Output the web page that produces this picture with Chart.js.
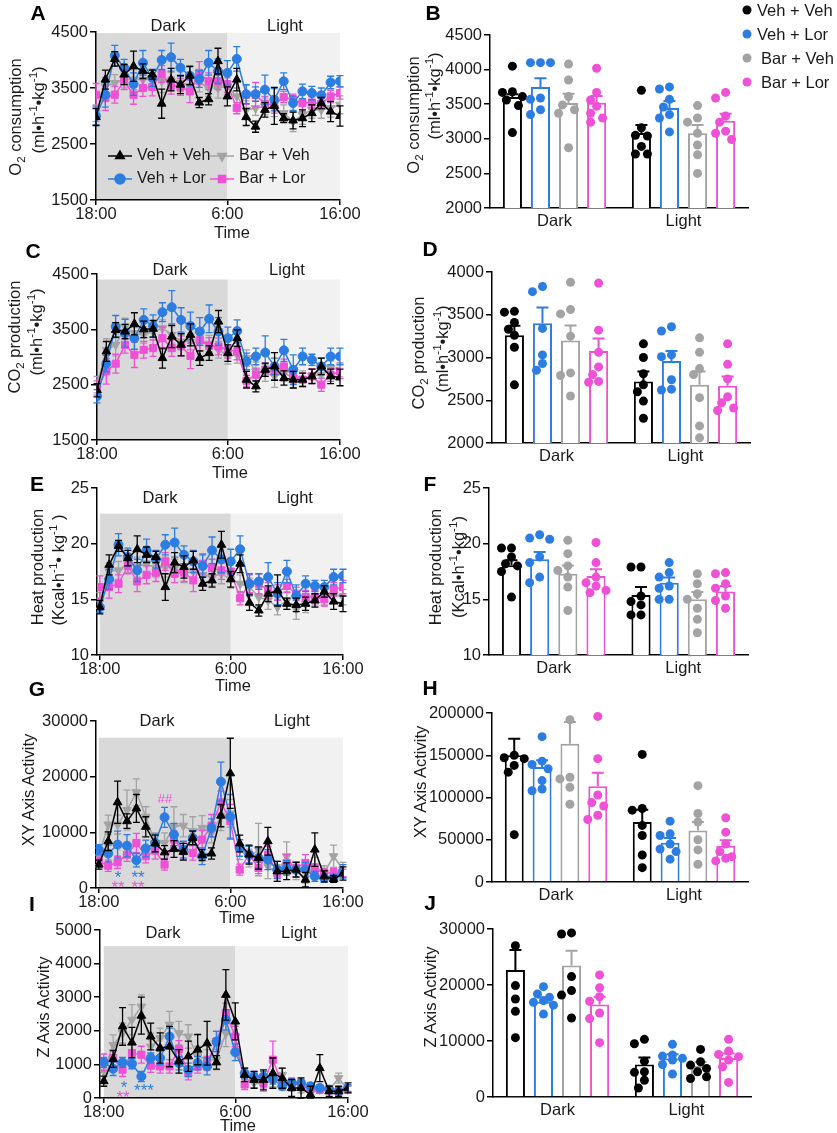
<!DOCTYPE html>
<html>
<head>
<meta charset="utf-8">
<script src="https://cdn.jsdelivr.net/npm/chart.js@4"></script>
<style>
body { margin: 0; background: #fff; width: 837px; height: 1133px; position: relative; overflow: hidden;
  font-family: "Liberation Sans", Arial, sans-serif; color: #1a1a1a; }
canvas { position: absolute; }
.t { position: absolute; white-space: nowrap; line-height: 1; transform: translate(-50%, -50%); font-size: 16.5px; z-index: 5; }
.yt { position: absolute; white-space: nowrap; line-height: 1; transform: translate(-50%, -50%) rotate(-90deg); font-size: 16.5px; z-index: 5; }
.lab { font-weight: bold; font-size: 21px; color: #000; }
.lg { position: absolute; white-space: nowrap; line-height: 1; transform: translateY(-50%); font-size: 16.5px; z-index: 5; }
.dot { position: absolute; width: 9px; height: 9px; border-radius: 50%; transform: translate(-50%, -50%); z-index: 5; }
sub, sup { font-size: 70%; line-height: 0; }
</style>
</head>
<body>

<!-- panel letters -->
<div class="t lab" style="left:38px;top:12px">A</div>
<div class="t lab" style="left:433px;top:12px">B</div>
<div class="t lab" style="left:33px;top:250px">C</div>
<div class="t lab" style="left:430px;top:248px">D</div>
<div class="t lab" style="left:37px;top:483px">E</div>
<div class="t lab" style="left:430px;top:483px">F</div>
<div class="t lab" style="left:37px;top:688px">G</div>
<div class="t lab" style="left:430px;top:687px">H</div>
<div class="t lab" style="left:32px;top:903px">I</div>
<div class="t lab" style="left:430px;top:902px">J</div>

<!-- y titles -->
<div class="yt" style="left:15px;top:117px">O<sub>2</sub> consumption</div>
<div class="yt" style="left:38px;top:110px">(ml•h<sup>-1</sup>•kg<sup>-1</sup>)</div>
<div class="yt" style="left:413px;top:115px">O<sub>2</sub> consumption</div>
<div class="yt" style="left:434px;top:96px">(ml•h<sup>-1</sup>•kg<sup>-1</sup>)</div>
<div class="yt" style="left:14px;top:337px">CO<sub>2</sub> production</div>
<div class="yt" style="left:36px;top:332px">(ml•h<sup>-1</sup>•kg<sup>-1</sup>)</div>
<div class="yt" style="left:418px;top:353px">CO<sub>2</sub> production</div>
<div class="yt" style="left:442px;top:349px">(ml•h<sup>-1</sup>•kg<sup>-1</sup>)</div>
<div class="yt" style="left:37px;top:567px">Heat production</div>
<div class="yt" style="left:58px;top:570px">(Kcal•h<sup>-1</sup>• kg<sup>-1</sup> )</div>
<div class="yt" style="left:435px;top:567px">Heat production</div>
<div class="yt" style="left:458px;top:567px">(Kcal•h<sup>-1</sup>•kg<sup>-1</sup>)</div>
<div class="yt" style="left:28px;top:790px">XY Axis Activity</div>
<div class="yt" style="left:420px;top:782px">XY Axis Activity</div>
<div class="yt" style="left:43px;top:1007px">Z Axis Activity</div>
<div class="yt" style="left:430px;top:997px">Z Axis Activity</div>

<!-- phase labels -->
<div class="t" style="left:168px;top:25px">Dark</div>
<div class="t" style="left:285px;top:25px">Light</div>
<div class="t" style="left:170px;top:269px">Dark</div>
<div class="t" style="left:287px;top:269px">Light</div>
<div class="t" style="left:160px;top:497px">Dark</div>
<div class="t" style="left:295px;top:497px">Light</div>
<div class="t" style="left:157px;top:720px">Dark</div>
<div class="t" style="left:292px;top:720px">Light</div>
<div class="t" style="left:163px;top:932px">Dark</div>
<div class="t" style="left:299px;top:932px">Light</div>

<!-- x titles -->
<div class="t" style="left:232px;top:232px">Time</div>
<div class="t" style="left:230px;top:472px">Time</div>
<div class="t" style="left:233px;top:685px">Time</div>
<div class="t" style="left:237px;top:917px">Time</div>
<div class="t" style="left:238px;top:1125px">Time</div>

<!-- significance marks -->
<div class="t" style="left:165px;top:798px;color:#ee50d6;font-size:13px">##</div>
<div class="t" style="left:118px;top:877px;color:#2c7de2;font-size:17px">*</div>
<div class="t" style="left:138px;top:877px;color:#2c7de2;font-size:17px">**</div>
<div class="t" style="left:118px;top:887px;color:#ee50d6;font-size:17px">**</div>
<div class="t" style="left:138px;top:887px;color:#ee50d6;font-size:17px">**</div>
<div class="t" style="left:124px;top:1087px;color:#2c7de2;font-size:17px">*</div>
<div class="t" style="left:144px;top:1090px;color:#2c7de2;font-size:17px">***</div>
<div class="t" style="left:123px;top:1097px;color:#ee50d6;font-size:17px">**</div>

<!-- legend B -->
<div class="dot" style="left:747px;top:10px;background:#000"></div>
<div class="lg" style="left:757px;top:10px">Veh + Veh</div>
<div class="dot" style="left:747px;top:34px;background:#2c7de2"></div>
<div class="lg" style="left:757px;top:34px">Veh + Lor</div>
<div class="dot" style="left:747px;top:58px;background:#a3a3a3"></div>
<div class="lg" style="left:761px;top:58px">Bar + Veh</div>
<div class="dot" style="left:747px;top:82px;background:#ee50d6"></div>
<div class="lg" style="left:761px;top:82px">Bar + Lor</div>

<script>
// ---- groups ----
var groupNames = ['Veh + Veh', 'Veh + Lor', 'Bar + Veh', 'Bar + Lor'];
var groupColors = ['#000000', '#2c7de2', '#a3a3a3', '#ee50d6'];
var groupStyles = ['triangle', 'circle', 'triangle', 'rect'];
var groupRot = [0, 0, 180, 0];
var drawOrder = [0, 1, 3, 2];

// ---- time axis ----
var timeTicks = [0, 14, 26];
var timeLabels = ['18:00', '6:00', '16:00'];
var phaseBounds = [0, 14, 26];
var phaseLabels = ['Dark', 'Light'];

// ---- A: O2 consumption, time course (Veh+Veh, Veh+Lor, Bar+Veh, Bar+Lor) ----
var o2VehVeh = [2980,3650,4020,3740,3890,3800,3740,3220,3650,3560,3720,3240,3300,3980,3350,3650,2980,2810,3110,3180,2960,2920,2960,3050,3230,3080,3000];
var o2VehLor = [3000,3380,4080,3860,3570,3950,3680,4000,4050,3860,3720,3660,3950,3800,3770,4020,3390,3390,3470,3290,3620,3230,3440,3410,3370,3600,3620];
var o2BarVeh = [3050,3530,3590,3650,3650,3650,3680,3620,3620,3590,3540,3600,3500,3500,3530,3350,3110,3140,3170,3140,3050,2900,3020,3110,3110,3140,3200];
var o2BarLor = [3380,3320,3380,3620,3380,3500,3520,3750,3540,3520,3440,3770,3620,3620,3570,3140,3380,3380,3220,3200,3340,3290,3230,3240,3220,3350,3410];
var o2VehVehErr = [150,170,130,180,270,130,80,260,200,160,160,90,100,230,170,200,150,100,130,330,80,150,150,150,100,180,180];
var o2VehLorErr = [160,220,180,150,200,220,150,170,250,150,180,150,220,220,220,220,170,130,260,200,150,130,130,120,130,110,100];
var o2BarVehErr = [150,160,150,150,180,150,150,200,160,150,150,170,150,180,150,150,160,130,150,150,150,180,170,150,150,160,160];
var o2BarLorErr = [200,220,150,150,170,150,160,150,150,150,200,200,150,150,150,100,170,220,130,150,100,100,150,100,100,110,110];

// ---- C: CO2 production ----
var co2VehVeh = [2400,3100,3490,3460,3600,3500,3510,2980,3370,3220,3400,2980,3070,3640,3070,3340,2590,2470,2770,2830,2620,2590,2590,2650,2830,2650,2630];
var co2VehLor = [2290,2880,3550,3430,3340,3670,3560,3810,3900,3670,3560,3460,3690,3460,3340,3470,2920,3010,3080,2830,3120,2770,3010,2950,2830,3010,3010];
var co2BarVeh = [2500,3130,3220,3550,3430,3400,3460,3520,3400,3280,3280,3250,3240,3130,3020,3040,2980,2740,2710,2650,2710,2620,2600,2660,2680,2800,2770];
var co2BarLor = [2440,2740,2880,3220,3040,3130,3160,3340,3160,3200,3020,3310,3200,3190,3130,3100,2570,2680,2770,2740,2830,2650,2590,2650,2500,2680,2740];
var co2VehVehErr = [120,180,130,130,200,150,150,180,200,200,200,130,130,200,150,150,150,100,120,250,130,150,120,130,150,130,150];
var co2VehLorErr = [120,150,200,250,200,200,200,170,300,220,250,250,250,250,200,200,150,150,300,150,200,270,150,100,150,150,150];
var co2BarVehErr = [150,200,200,150,150,150,150,150,150,150,150,150,150,150,150,150,150,170,150,200,150,180,150,130,150,130,130];
var co2BarLorErr = [130,230,170,150,230,150,150,200,150,180,230,200,150,150,150,150,100,120,120,150,130,120,120,130,120,120,130];

// ---- E: heat production ----
var heatVehVeh = [14.3,18.1,19.8,18.7,19.5,19.0,18.8,16.1,18.3,17.9,18.5,16.4,16.7,19.9,16.8,18.2,14.7,14.0,15.5,15.8,14.6,14.5,14.6,14.9,15.7,14.8,14.6];
var heatVehLor = [14.3,16.8,19.9,18.8,17.6,19.4,18.6,19.9,20.1,19.0,18.4,18.0,19.4,18.6,18.4,19.5,16.4,16.6,17.0,15.5,17.5,15.3,16.4,16.2,16.1,17.0,17.1];
var heatBarVeh = [14.9,17.5,17.6,18.2,17.9,18.2,17.8,17.9,17.8,17.3,17.5,17.2,17.0,17.3,16.8,16.4,16.1,15.2,14.9,14.3,14.9,14.1,14.6,15.1,15.2,15.4,15.2];
var heatBarLor = [16.1,16.1,16.4,18.0,16.6,17.2,17.4,18.4,17.3,17.4,16.7,18.2,17.8,17.6,17.5,15.1,16.4,16.4,15.8,15.6,16.2,15.5,15.2,15.2,15.0,15.9,16.1];
var heatVehVehErr = [0.6,0.9,0.5,0.7,1.2,0.7,0.5,1.2,0.9,1.0,0.8,0.6,0.6,1.2,0.7,0.8,0.7,0.5,0.7,1.4,0.5,0.6,0.6,0.6,0.5,0.7,0.7];
var heatVehLorErr = [0.5,0.9,1.0,0.8,1.0,1.0,0.8,0.9,1.3,0.8,1.0,1.0,1.2,1.2,1.1,1.2,0.9,0.7,1.3,1.0,1.0,1.0,0.7,0.5,0.6,0.7,0.6];
var heatBarVehErr = [0.7,0.8,0.8,0.8,0.9,0.8,0.8,0.9,0.8,0.8,0.8,0.8,0.8,0.9,0.8,0.8,0.8,0.8,0.8,0.7,0.8,0.9,0.8,0.7,0.7,0.7,0.7];
var heatBarLorErr = [1.0,1.0,0.8,0.7,0.9,0.8,0.8,0.8,0.8,0.8,1.0,0.9,0.8,0.8,0.8,0.6,0.8,0.9,0.7,0.7,0.6,0.6,0.6,0.6,0.6,0.6,0.6];

// ---- G: XY axis activity ----
var xyVehVeh = [4200,8400,15400,12000,14300,11000,8000,6400,7000,6500,9000,5900,6200,13000,20600,8000,6000,5400,8400,3000,3000,3300,1500,6900,2100,1600,2600];
var xyVehLor = [6900,6200,7800,7600,5000,7100,8100,12700,9600,6900,9000,5700,10800,19100,12800,7200,6000,5400,5100,3300,3600,3300,3300,2100,1800,1800,3000];
var xyBarVeh = [5700,11400,11400,14000,17200,12800,8100,8100,11100,11200,10200,10800,9900,12800,13400,6900,5400,6900,3900,2700,5700,3000,1800,3900,2700,5700,3300];
var xyBarLor = [4800,4000,4600,6000,8100,5700,6700,4200,8700,6600,6300,8700,11200,15400,12000,3300,6000,3600,6000,2700,4500,3600,4500,3300,2700,2700,2700];
var xyVehVehErr = [800,1700,3800,1300,2500,1800,1500,1200,1500,1500,1200,1000,1000,2000,6300,1500,1700,2000,2500,1800,1500,1300,1300,3000,1000,600,1200];
var xyVehLorErr = [900,1500,2400,2000,1200,1500,1600,1800,2000,1500,1300,1500,1600,3500,4000,1500,1500,1800,1800,1500,1300,1400,1300,900,800,600,1200];
var xyBarVehErr = [1500,1700,1700,3600,2400,1800,1800,1800,3500,2000,2600,2200,1800,2500,2500,1800,1600,4700,2200,1500,2600,1500,900,1600,1300,2000,1300];
var xyBarLorErr = [1000,1000,1100,1200,1700,1200,1500,1000,1500,1400,1300,1600,2000,2000,3000,1000,1500,1000,1500,1000,1500,1000,1500,1000,800,800,700];

// ---- I: Z axis activity ----
var zVehVeh = [500,1160,2130,1650,2450,1830,1490,1530,1090,1240,1440,1630,1060,3070,2280,690,540,540,740,590,300,300,100,890,200,200,300];
var zVehLor = [1060,870,1060,1020,640,1190,1190,1830,1040,840,1040,940,1680,2330,1360,740,620,640,560,350,450,450,350,300,250,200,300];
var zBarVeh = [790,1580,1930,2330,2720,1530,1780,2180,1930,1830,1240,1140,1140,1930,1830,590,450,400,540,690,350,250,150,250,250,590,250];
var zBarLor = [1060,1190,840,1340,1290,960,940,940,1460,740,940,1040,1680,2520,1830,400,640,450,1140,400,450,350,270,250,230,200,270];
var zVehVehErr = [150,250,560,450,550,400,450,600,350,450,450,650,200,750,550,200,250,300,450,300,250,300,250,400,150,150,150];
var zVehLorErr = [150,200,150,150,150,150,200,250,200,200,200,250,300,300,250,150,150,150,150,100,100,100,100,100,100,100,100];
var zBarVehErr = [250,300,300,450,350,400,300,400,350,350,300,300,300,400,350,150,150,200,200,200,150,100,100,100,100,150,100];
var zBarLorErr = [250,250,200,250,250,200,200,200,250,200,200,200,300,300,300,150,150,150,550,150,150,100,100,100,100,100,100];

// ---- bar panels: [Dark, Light] means and SEM; dots per phase ----
var o2Mean = [[3604,3084],[3748,3445],[3517,3080],[3520,3262]];
var o2Sem = [[40,116],[127,103],[133,120],[100,100]];
var o2DotsDark = [[4050,3680,3670,3610,3560,3480,3090],[4100,4100,4100,3590,3570,3420,3350],[4080,3850,3610,3490,3420,3370,2870],[4020,3670,3560,3470,3370,3300,3240]];
var o2DotsLight = [[3700,3160,3050,3040,2890,2780,2780],[3750,3720,3570,3460,3350,3300,3100],[3480,3300,3240,3080,2910,2770,2500],[3670,3590,3330,3240,3110,3080,2990]];

var co2Mean = [[3260,2720],[3400,2960],[3200,2680],[3075,2670]];
var co2Sem = [[110,115],[184,116],[175,155],[148,107]];
var co2DotsDark = [[3540,3530,3410,3330,3260,3120,2680],[3830,3770,3340,3030,2930,2850],[3880,3560,3510,3250,2820,2790,2550],[3870,3320,3060,2890,2800,2720,2710]];
var co2DotsLight = [[3160,3000,2810,2680,2600,2490,2290],[3360,3310,3030,3010,2740,2630,2620],[3230,3060,2870,2800,2530,2200,2060],[3160,2920,2750,2540,2470,2410,2380]];

var heatMean = [[18.07,15.4],[18.6,16.5],[17.3,15.0],[17.1,15.7]];
var heatSem = [[0.45,0.7],[0.65,0.45],[0.75,0.65],[0.6,0.5]];
var heatDotsDark = [[19.6,19.6,18.8,18.2,18.0,17.5,15.2],[20.8,20.5,20.4,18.8,18.3,17.0,16.5],[20.3,19.1,18.0,17.6,17.0,16.1,14.0],[20.1,18.3,17.0,16.5,16.2,15.8,15.6]];
var heatDotsLight = [[17.9,17.9,15.3,14.8,14.5,13.6,13.6],[18.3,17.4,17.0,16.2,16.0,15.0,15.0],[17.3,16.4,15.5,15.0,14.2,13.2,12.0],[17.4,17.3,16.4,16.0,15.3,14.9,14.2]];

var xyMean = [[149900,71000],[136100,46500],[163700,60800],[113200,43000]];
var xySem = [[19700,14600],[7900,5600],[25700,10200],[16200,6300]];
var xyDotsDark = [[150000,147000,146000,138000,130000,56000],[172000,143000,139000,134000,120000,110000,108000],[192000,124000,122000,112000,92000],[196000,146000,103000,94000,90000,79000,74000]];
var xyDotsLight = [[151000,87000,85000,67000,55000,32000,17000],[72000,57000,55000,45000,39000,36000,27000],[114000,81000,71000,50000,38000,21000],[76000,59000,45000,36000,30000,28000,25000]];

var zMean = [[22660,5785],[17000,6860],[23500,5546],[16520,6980]];
var zSem = [[3580,1255],[770,770],[2620,710],[1370,770]];
var zDotsDark = [[27000,19900,17500,15300,10600],[19700,18400,17800,17200,16900,16400,14800],[29300,29100,21500,19000,18200,14100],[21800,19500,17900,17100,15000,14000,9700]];
var zDotsLight = [[10300,9500,6400,4500,4400,3000,1600],[9400,7500,7300,6900,6600,5800,4100],[8500,6300,5700,5100,4500,3600,3300],[10300,8200,7600,7200,6600,5400,2600]];

// ---- shared helpers ----
var FONT = { family: '"Liberation Sans", Arial, sans-serif', size: 16.5 };
var INK = '#1a1a1a';

function mount(box, area) {
  var c = document.createElement('canvas');
  c.width = box[2]; c.height = box[3];
  c.style.left = box[0] + 'px'; c.style.top = box[1] + 'px';
  c.style.width = box[2] + 'px'; c.style.height = box[3] + 'px';
  document.body.appendChild(c);
  return {
    canvas: c,
    pad: { left: 0, top: area[1] - box[1], right: box[0] + box[2] - area[2], bottom: 0 },
    yw: area[0] - box[0],
    xh: box[1] + box[3] - area[3]
  };
}

function yAxis(p, min, max, step) {
  return {
    min: min, max: max,
    border: { color: '#000', width: 1.5 },
    grid: { drawOnChartArea: false, color: '#000', lineWidth: 1.5, tickLength: 6 },
    ticks: { stepSize: step, font: FONT, color: INK, padding: 2, callback: function (v) { return String(v); } },
    afterFit: function (s) { s.width = p.yw; s.paddingTop = 0; s.paddingBottom = 0; }
  };
}

// grey day/night background
var shadePlugin = {
  id: 'shade',
  beforeDraw: function (chart, args, opts) {
    var xs = chart.scales.x, ys = chart.scales.y, ctx = chart.ctx;
    var top = ys.getPixelForValue(opts.top), bot = ys.getPixelForValue(ys.min);
    var fills = ['#d9d9d9', '#f1f1f1'];
    ctx.save();
    for (var i = 0; i < 2; i++) {
      var x0 = xs.getPixelForValue(phaseBounds[i]), x1 = xs.getPixelForValue(phaseBounds[i + 1]);
      ctx.fillStyle = fills[i];
      ctx.fillRect(x0, top, x1 - x0, bot - top);
    }
    ctx.restore();
  }
};

// error bars drawn just under each line
var lineErrPlugin = {
  id: 'lineErr',
  beforeDatasetDraw: function (chart, args) {
    var ds = chart.data.datasets[args.index];
    var ys = chart.scales.y, ctx = chart.ctx;
    ctx.save();
    ctx.strokeStyle = ds.borderColor; ctx.lineWidth = 1.3;
    args.meta.data.forEach(function (pt, i) {
      var v = ds.data[i].y, e = ds.err[i];
      var yt = ys.getPixelForValue(v + e), yb = ys.getPixelForValue(Math.max(v - e, ys.min));
      ctx.beginPath();
      ctx.moveTo(pt.x, yt); ctx.lineTo(pt.x, yb);
      ctx.moveTo(pt.x - 3.5, yt); ctx.lineTo(pt.x + 3.5, yt);
      ctx.moveTo(pt.x - 3.5, yb); ctx.lineTo(pt.x + 3.5, yb);
      ctx.stroke();
    });
    ctx.restore();
  }
};

// legend inside panel A
var inLegendPlugin = {
  id: 'inLegend',
  afterDraw: function (chart, args, opts) {
    if (!opts.items) return;
    var ctx = chart.ctx;
    opts.items.forEach(function (it) {
      var k = it[0], x = it[1], y = it[2];
      ctx.save();
      ctx.strokeStyle = groupColors[k]; ctx.fillStyle = groupColors[k]; ctx.lineWidth = 1.5;
      ctx.beginPath(); ctx.moveTo(x - 12, y); ctx.lineTo(x + 12, y); ctx.stroke();
      Chart.helpers.drawPoint(ctx, { pointStyle: groupStyles[k], rotation: groupRot[k], radius: 5, borderWidth: 1 }, x, y);
      ctx.fillStyle = INK;
      ctx.font = '16px "Liberation Sans", Arial, sans-serif';
      ctx.textBaseline = 'middle';
      ctx.fillText(groupNames[k], x + 17, y);
      ctx.restore();
    });
  }
};

function lineChart(box, area, series, errs, yMin, yMax, yStep, xMin, shadeTop, legendItems) {
  var p = mount(box, area);
  var datasets = series.map(function (vals, k) {
    return {
      label: groupNames[k],
      data: vals.map(function (v, i) { return { x: i, y: v }; }),
      err: errs[k],
      borderColor: groupColors[k], backgroundColor: groupColors[k],
      borderWidth: 1.5, tension: 0,
      pointStyle: groupStyles[k], pointRotation: groupRot[k],
      pointRadius: k === 1 ? 4.5 : 5, pointBorderWidth: 1,
      order: drawOrder[k]
    };
  });
  new Chart(p.canvas, {
    type: 'line',
    data: { datasets: datasets },
    options: {
      responsive: false, animation: false, events: [],
      layout: { padding: p.pad },
      plugins: { legend: { display: false }, tooltip: { enabled: false },
        shade: { top: shadeTop }, inLegend: { items: legendItems } },
      scales: {
        x: {
          type: 'linear', min: xMin, max: 26,
          border: { color: '#000', width: 1.5 },
          grid: { drawOnChartArea: false, color: '#000', lineWidth: 1.5, tickLength: 5 },
          ticks: { font: FONT, color: INK, padding: 0, autoSkip: false, maxRotation: 0,
            callback: function (v) { var k = timeTicks.indexOf(v); return k < 0 ? '' : timeLabels[k]; } },
          afterBuildTicks: function (s) { s.ticks = timeTicks.map(function (v) { return { value: v }; }); },
          afterFit: function (s) { s.height = p.xh; s.paddingLeft = 0; s.paddingRight = 0; }
        },
        y: yAxis(p, yMin, yMax, yStep)
      }
    },
    plugins: [shadePlugin, lineErrPlugin, inLegendPlugin]
  });
}

// SEM bars and individual animals on the bar charts
var barMarksPlugin = {
  id: 'barMarks',
  afterDatasetsDraw: function (chart) {
    var ctx = chart.ctx, ys = chart.scales.y;
    chart.data.datasets.forEach(function (ds, k) {
      chart.getDatasetMeta(k).data.forEach(function (bar, g) {
        var top = ys.getPixelForValue(ds.data[g]);
        var et = ys.getPixelForValue(ds.data[g] + ds.sem[g]);
        ctx.save();
        ctx.strokeStyle = ds.borderColor; ctx.lineWidth = 2;
        ctx.beginPath();
        ctx.moveTo(bar.x, top); ctx.lineTo(bar.x, et);
        ctx.moveTo(bar.x - 6, et); ctx.lineTo(bar.x + 6, et);
        ctx.stroke();
        ctx.restore();
      });
    });
    var offs = [0, -6, 6, -10, 10, -3, 3];
    chart.data.datasets.forEach(function (ds, k) {
      chart.getDatasetMeta(k).data.forEach(function (bar, g) {
        var placed = [];
        ds.dots[g].forEach(function (v) {
          var y = ys.getPixelForValue(v), dx = 0;
          for (var j = 0; j < offs.length; j++) {
            var ok = placed.every(function (q) {
              var a = q[0] - offs[j], b = q[1] - y;
              return a * a + b * b >= 70;
            });
            if (ok) { dx = offs[j]; break; }
          }
          placed.push([dx, y]);
          ctx.beginPath();
          ctx.arc(bar.x + dx, y, 4.5, 0, Math.PI * 2);
          ctx.fillStyle = ds.dotColor;
          ctx.fill();
        });
      });
    });
  }
};

function barChart(box, area, means, sems, dotsDark, dotsLight, yMin, yMax, yStep, dotColors) {
  var p = mount(box, area);
  var datasets = means.map(function (m, k) {
    return {
      label: groupNames[k], data: m, sem: sems[k], dots: [dotsDark[k], dotsLight[k]],
      dotColor: dotColors[k],
      borderColor: groupColors[k], backgroundColor: '#ffffff', borderWidth: 2,
      categoryPercentage: 0.87, barPercentage: 0.68
    };
  });
  new Chart(p.canvas, {
    type: 'bar',
    data: { labels: phaseLabels, datasets: datasets },
    options: {
      responsive: false, animation: false, events: [],
      layout: { padding: p.pad },
      plugins: { legend: { display: false }, tooltip: { enabled: false } },
      scales: {
        x: {
          type: 'category', offset: true,
          border: { color: '#000', width: 1.5 },
          grid: { display: true, drawOnChartArea: false, drawTicks: false },
          ticks: { font: FONT, color: INK, padding: 4 },
          afterFit: function (s) { s.height = p.xh; s.paddingLeft = 0; s.paddingRight = 0; }
        },
        y: yAxis(p, yMin, yMax, yStep)
      }
    },
    plugins: [barMarksPlugin]
  });
}

// ---- build panels ----
lineChart([0, 0, 380, 222], [96, 32, 340, 200],
  [o2VehVeh, o2VehLor, o2BarVeh, o2BarLor], [o2VehVehErr, o2VehLorErr, o2BarVehErr, o2BarLorErr],
  1500, 4500, 1000, 0, 4480,
  [[0, 120, 156], [2, 222, 156], [1, 120, 179], [3, 222, 179]]);
lineChart([0, 250, 380, 212], [97, 274, 340, 440],
  [co2VehVeh, co2VehLor, co2BarVeh, co2BarLor], [co2VehVehErr, co2VehLorErr, co2BarVehErr, co2BarLorErr],
  1500, 4500, 1000, 0, 4400, null);
lineChart([0, 470, 380, 207], [97, 488, 343, 655],
  [heatVehVeh, heatVehLor, heatBarVeh, heatBarLor], [heatVehVehErr, heatVehLorErr, heatBarVehErr, heatBarLorErr],
  10, 25, 5, -0.3, 22.7, null);
lineChart([0, 700, 380, 210], [96, 721, 343, 888],
  [xyVehVeh, xyVehLor, xyBarVeh, xyBarLor], [xyVehVehErr, xyVehLorErr, xyBarVehErr, xyBarLorErr],
  0, 30000, 10000, -0.3, 27000, null);
lineChart([0, 915, 380, 205], [100, 930, 348, 1098],
  [zVehVeh, zVehLor, zBarVeh, zBarLor], [zVehVehErr, zVehLorErr, zBarVehErr, zBarLorErr],
  0, 5000, 1000, -0.4, 4520, null);

barChart([400, 0, 437, 235], [490, 35, 748, 208], o2Mean, o2Sem, o2DotsDark, o2DotsLight, 2000, 4500, 500, groupColors);
barChart([400, 250, 437, 220], [492, 272, 750, 443], co2Mean, co2Sem, co2DotsDark, co2DotsLight, 2000, 4000, 500, groupColors);
barChart([400, 470, 437, 215], [489, 488, 748, 655], heatMean, heatSem, heatDotsDark, heatDotsLight, 10, 25, 5, groupColors);
barChart([400, 695, 437, 210], [492, 713, 748, 882], xyMean, xySem, xyDotsDark, xyDotsLight, 0, 200000, 50000, groupColors);
barChart([400, 915, 437, 205], [493, 929, 751, 1097], zMean, zSem, zDotsDark, zDotsLight, 0, 30000, 10000,
  [groupColors[0], groupColors[1], '#000000', groupColors[3]]);
</script>
</body>
</html>
